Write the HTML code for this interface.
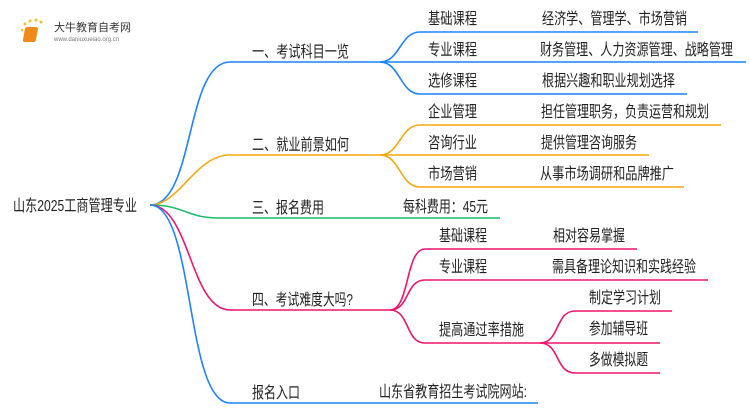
<!DOCTYPE html>
<html><head><meta charset="utf-8"><style>
html,body{margin:0;padding:0;background:#fff;}
svg{display:block;}
text{font-family:"Liberation Sans","Noto Sans CJK SC",sans-serif;font-size:16px;fill:#222;}
</style></head><body>
<svg width="750" height="410" viewBox="0 0 750 410" xmlns="http://www.w3.org/2000/svg">
<g fill="none" stroke-width="1.6">
<path d="M150,205 C195,205 185,62 230,62 L380,62" stroke="#1a84ff"/>
<path d="M380,62 C400,62 400,32 420,32 L698,32" stroke="#1a84ff"/>
<path d="M380,62 L746,62" stroke="#1a84ff"/>
<path d="M380,62 C400,62 400,94 420,94 L687,94" stroke="#1a84ff"/>
<path d="M150,205 C180,205 195,155 230,155 L380,155" stroke="#f5a811"/>
<path d="M380,155 C400,155 400,125 420,125 L721,125" stroke="#f5a811"/>
<path d="M380,155 L649,155" stroke="#f5a811"/>
<path d="M380,155 C400,155 400,187 420,187 L684,187" stroke="#f5a811"/>
<path d="M150,205 C185,205 185,218 220,218 L500,218" stroke="#1dbb6a"/>
<path d="M150,205 C190,205 190,310 230,310 L390,310" stroke="#f0146c"/>
<path d="M390,310 C410,310 405,249 425,249 L637,249" stroke="#f0146c"/>
<path d="M390,310 C410,310 405,280 425,280 L708,280" stroke="#f0146c"/>
<path d="M390,310 C410,310 405,343 425,343 L540,343" stroke="#f0146c"/>
<path d="M540,343 C560,343 555,311 575,311 L672,311" stroke="#f0146c"/>
<path d="M540,343 L660,343" stroke="#f0146c"/>
<path d="M540,343 C560,343 555,373 575,373 L660,373" stroke="#f0146c"/>
<path d="M150,205 C195,205 185,403 230,403 L538,403" stroke="#1a84ff"/>
</g>
<g>
<circle cx="25" cy="24" r="1.5" fill="#f6c02a"/><circle cx="30" cy="21" r="1.5" fill="#f6c02a"/><circle cx="36" cy="20" r="1.5" fill="#f6c02a"/><circle cx="41" cy="22" r="1.5" fill="#f6c02a"/><circle cx="22" cy="30" r="1.3" fill="#f6c02a"/>
<rect x="30" y="27" width="13" height="15" rx="2" fill="#f08a1a" transform="skewX(-10)"/>
<text x="54" y="31" style="font-size:11px;fill:#333">大牛教育自考网</text>
<text x="54" y="41" style="font-size:6px;fill:#777">www.daniuxueiao.org.cn</text>
</g>
<g>
<text x="13" y="211" textLength="124" lengthAdjust="spacingAndGlyphs">山东2025工商管理专业</text>
<text x="252" y="57" textLength="97" lengthAdjust="spacingAndGlyphs">一、考试科目一览</text>
<text x="252" y="150" textLength="97" lengthAdjust="spacingAndGlyphs">二、就业前景如何</text>
<text x="252" y="213" textLength="72" lengthAdjust="spacingAndGlyphs">三、报名费用</text>
<text x="252" y="305" textLength="101" lengthAdjust="spacingAndGlyphs">四、考试难度大吗?</text>
<text x="252" y="398" textLength="48" lengthAdjust="spacingAndGlyphs">报名入口</text>
<text x="428" y="24" textLength="49" lengthAdjust="spacingAndGlyphs">基础课程</text><text x="542" y="24" textLength="145" lengthAdjust="spacingAndGlyphs">经济学、管理学、市场营销</text>
<text x="428" y="55" textLength="49" lengthAdjust="spacingAndGlyphs">专业课程</text><text x="540" y="55" textLength="193" lengthAdjust="spacingAndGlyphs">财务管理、人力资源管理、战略管理</text>
<text x="428" y="86" textLength="49" lengthAdjust="spacingAndGlyphs">选修课程</text><text x="542" y="86" textLength="133" lengthAdjust="spacingAndGlyphs">根据兴趣和职业规划选择</text>
<text x="428" y="117" textLength="49" lengthAdjust="spacingAndGlyphs">企业管理</text><text x="541" y="117" textLength="168" lengthAdjust="spacingAndGlyphs">担任管理职务，负责运营和规划</text>
<text x="428" y="148" textLength="49" lengthAdjust="spacingAndGlyphs">咨询行业</text><text x="541" y="148" textLength="96" lengthAdjust="spacingAndGlyphs">提供管理咨询服务</text>
<text x="428" y="179" textLength="49" lengthAdjust="spacingAndGlyphs">市场营销</text><text x="540" y="179" textLength="134" lengthAdjust="spacingAndGlyphs">从事市场调研和品牌推广</text>
<text x="403" y="212" textLength="85" lengthAdjust="spacingAndGlyphs">每科费用：45元</text>
<text x="439" y="241" textLength="48" lengthAdjust="spacingAndGlyphs">基础课程</text><text x="553" y="241" textLength="72" lengthAdjust="spacingAndGlyphs">相对容易掌握</text>
<text x="439" y="272" textLength="48" lengthAdjust="spacingAndGlyphs">专业课程</text><text x="552" y="272" textLength="144" lengthAdjust="spacingAndGlyphs">需具备理论知识和实践经验</text>
<text x="439" y="335" textLength="85" lengthAdjust="spacingAndGlyphs">提高通过率措施</text>
<text x="589" y="303" textLength="72" lengthAdjust="spacingAndGlyphs">制定学习计划</text>
<text x="589" y="334" textLength="59" lengthAdjust="spacingAndGlyphs">参加辅导班</text>
<text x="589" y="365" textLength="59" lengthAdjust="spacingAndGlyphs">多做模拟题</text>
<text x="379" y="397" textLength="148" lengthAdjust="spacingAndGlyphs">山东省教育招生考试院网站:</text>
</g>
</svg>
</body></html>
